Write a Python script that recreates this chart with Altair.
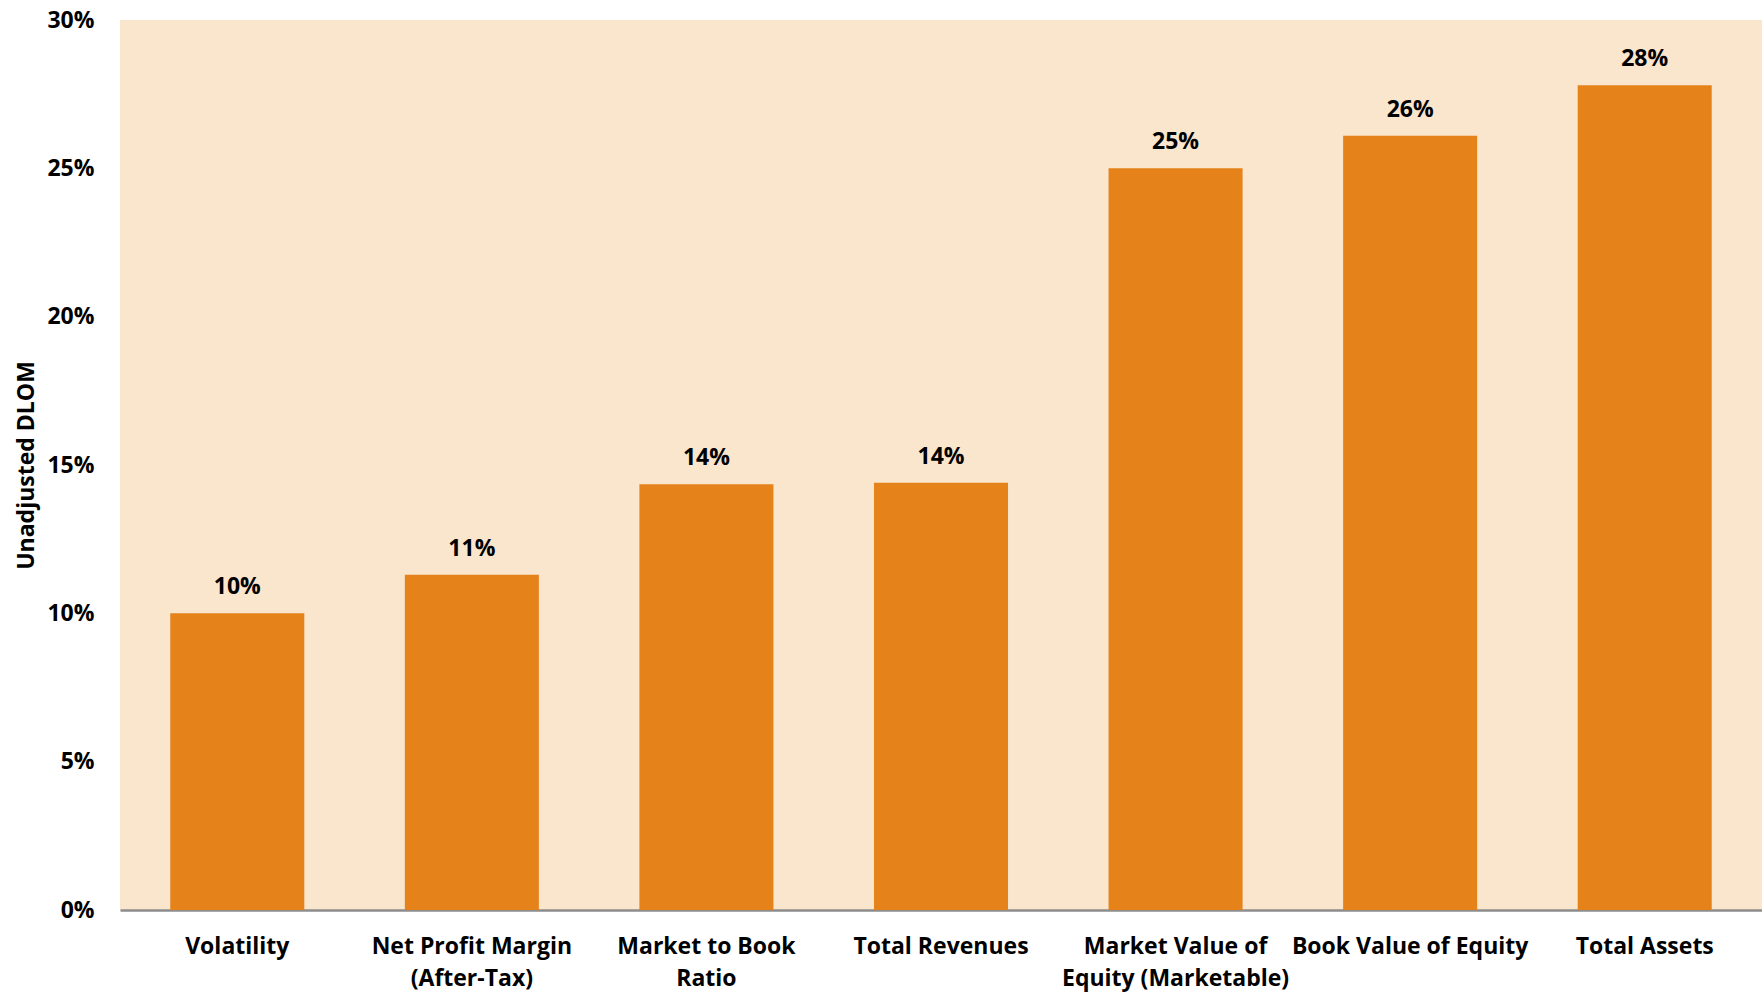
import altair as alt
import pandas as pd

categories = [
    "Volatility",
    "Net Profit Margin\n(After-Tax)",
    "Market to Book\nRatio",
    "Total Revenues",
    "Market Value of\nEquity (Marketable)",
    "Book Value of Equity",
    "Total Assets",
]
values = [0.100, 0.113, 0.1435, 0.144, 0.250, 0.261, 0.278]
y_ticks = [0, 0.05, 0.10, 0.15, 0.20, 0.25, 0.30]

df = pd.DataFrame({"category": categories, "value": values})

FONT = "Open Sans"
BAR = "#E6821A"
BG = "#FAE5CD"

x_enc = alt.X(
    "category:N",
    sort=None,
    scale=alt.Scale(paddingInner=0.4286, paddingOuter=0.2143),
    axis=alt.Axis(
        title=None,
        labelAngle=0,
        labelExpr="split(datum.label, '\\n')",
        labelFont=FONT,
        labelFontWeight="bold",
        labelFontSize=23,
        labelColor="#000000",
        labelLineHeight=32,
        labelBaseline="top",
        labelPadding=25,
        labelLimit=0,
        labelOverlap=False,
        ticks=False,
        domain=True,
        domainColor="#8C8C8C",
        domainWidth=2.6,
        grid=False,
    ),
)

y_enc = alt.Y(
    "value:Q",
    scale=alt.Scale(domain=[0, 0.30], nice=False, zero=True),
    axis=alt.Axis(
        values=y_ticks,
        format=".0%",
        title="Unadjusted DLOM",
        titleFont=FONT,
        titleFontWeight="bold",
        titleFontSize=23,
        titleColor="#000000",
        titleAngle=270,
        titleX=-94,
        titleY=445,
        titleAlign="center",
        titleBaseline="middle",
        labelFont=FONT,
        labelFontWeight="bold",
        labelFontSize=23,
        labelColor="#000000",
        labelPadding=26,
        ticks=False,
        domain=False,
        grid=False,
    ),
)

bars = alt.Chart(df).mark_bar(color=BAR).encode(x=x_enc, y=y_enc)

labels = alt.Chart(df).mark_text(
    font=FONT,
    fontWeight="bold",
    fontSize=23,
    color="#000000",
    baseline="alphabetic",
    align="center",
    dy=-19,
).encode(
    x=alt.X("category:N", sort=None),
    y=alt.Y("value:Q"),
    text=alt.Text("value:Q", format=".0%"),
)

chart = (
    alt.layer(bars, labels)
    .properties(
        width=1642,
        height=890,
        background="#FFFFFF",
        padding={"left": 120, "top": 20, "right": 0, "bottom": 84},
        autosize=alt.AutoSizeParams(type="none"),
    )
    .configure_view(fill=BG, stroke=None)
)

chart.save("out.html", embed_options={"renderer": "svg", "actions": False})
